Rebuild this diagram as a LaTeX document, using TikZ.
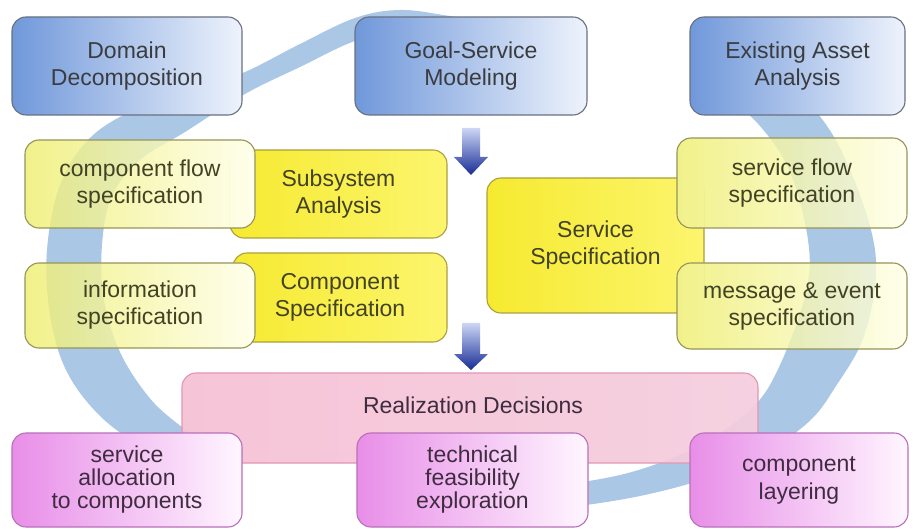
\documentclass[tikz,border=0pt]{standalone}
\usepackage{fontspec}
\setmainfont{Liberation Sans}
\definecolor{ringblue}{RGB}{162,193,228}
\definecolor{blueL}{RGB}{112,152,218}
\definecolor{blueR}{RGB}{238,243,252}
\definecolor{blueD}{RGB}{105,112,128}
\definecolor{yelL}{RGB}{238,238,110}
\definecolor{yelR}{RGB}{255,255,232}
\definecolor{yelD}{RGB}{150,148,90}
\definecolor{ymainL}{RGB}{246,234,48}
\definecolor{ymainR}{RGB}{252,245,110}
\definecolor{ymainD}{RGB}{172,160,60}
\definecolor{pinkL}{RGB}{246,192,212}
\definecolor{pinkM}{RGB}{252,226,236}
\definecolor{pinkR}{RGB}{245,205,222}
\definecolor{pinkD}{RGB}{226,150,180}
\definecolor{magL}{RGB}{232,142,232}
\definecolor{magR}{RGB}{255,246,255}
\definecolor{magD}{RGB}{184,112,184}
\definecolor{txtD}{RGB}{58,60,64}
\definecolor{txtY}{RGB}{66,66,36}
\definecolor{txtP}{RGB}{64,44,64}
\definecolor{arrL}{RGB}{205,215,245}
\definecolor{arrD}{RGB}{24,44,150}
\begin{document}
\begin{tikzpicture}[x=1pt,y=-1pt,
  box/.style={rectangle, rounded corners=14pt, line width=1.1pt, align=center,
    font=\fontsize{23}{27}\selectfont, inner sep=0pt},
  bluebox/.style={box, draw=blueD, left color=blueL, right color=blueR, text=txtD},
  sidebox/.style={box, draw=yelD, left color=yelL, right color=yelR, text=txtY, fill opacity=0.8, text opacity=1},
  mainbox/.style={box, draw=ymainD, left color=ymainL, right color=ymainR, text=txtY},
  pinkbox/.style={box, draw=pinkD, left color=pinkL, middle color=pinkM, right color=pinkR, fill opacity=0.92},
  magbox/.style={box, draw=magD, left color=magL, right color=magR, text=txtP,
    font=\fontsize{23}{23}\selectfont},
  lbl/.style={inner sep=0pt, font=\fontsize{23}{27}\selectfont},
  flowarrow/.style={top color=arrL, bottom color=arrD},
  swirl/.style={fill=ringblue, fill opacity=0.9}
]
\useasboundingbox (0,0) rectangle (913,529);
\fill[white] (0,0) rectangle (913,529);

% background swirl (left arc)
\path[swirl] plot[smooth, tension=0.6] coordinates {
  (540,30) (450,16) (400,10) (355,18) (300,44) (245,72) (190,92) (130,112) (88,140)
  (60,185) (47,250) (50,315) (66,370) (98,414) (140,446) (185,470)}
  -- plot[smooth, tension=0.6] coordinates {
  (215,448) (178,424) (148,396) (120,352) (104,300) (102,245) (112,196) (140,160)
  (185,132) (245,94) (300,67) (355,41) (400,32) (450,32) (540,44)} -- cycle;
% background swirl (right arc)
\path[swirl] plot[smooth, tension=0.6] coordinates {
  (745,60) (800,95) (842,152) (875,250) (866,330) (836,386) (804,426) (740,466)
  (640,496) (520,512) (430,512)}
  -- plot[smooth, tension=0.6] coordinates {
  (430,486) (520,488) (620,475) (698,446) (752,408) (780,365) (806,292) (808,240)
  (790,172) (760,126) (720,90)} -- cycle;

% top row
\node[bluebox, minimum width=230pt, minimum height=98pt] (dd) at (127,66) {Domain\\Decomposition};
\node[bluebox, minimum width=232pt, minimum height=98pt] (gsm) at (471,66) {Goal-Service\\Modeling};
\node[bluebox, minimum width=215pt, minimum height=98pt] (eaa) at (797.5,66) {Existing Asset\\Analysis};

% main yellow boxes
\node[mainbox, minimum width=217pt, minimum height=88pt] (ssa) at (338.5,194) {Subsystem\\Analysis};
\node[mainbox, minimum width=214pt, minimum height=89pt] (cs) at (340,297.5) {Component\\Specification};
\node[mainbox, minimum width=217pt, minimum height=135pt] (ss) at (595.5,245.5) {Service\\Specification};

% opaque underlay where side boxes overlap main boxes
\begin{scope}
  \clip (ssa.north west) rectangle (cs.south east);
  \fill[white, rounded corners=14pt] (25,140) rectangle (255,228);
  \fill[white, rounded corners=14pt] (25,263) rectangle (255,348);
\end{scope}
\begin{scope}
  \clip (ss.north west) rectangle (ss.south east);
  \fill[white, rounded corners=14pt] (677,138) rectangle (907,228);
  \fill[white, rounded corners=14pt] (677,263) rectangle (907,349);
\end{scope}

% side yellow boxes
\node[sidebox, minimum width=230pt, minimum height=88pt] (cfs) at (140,184) {component flow\\specification};
\node[sidebox, minimum width=230pt, minimum height=85pt] (inf) at (140,305.5) {information\\specification};
\node[sidebox, minimum width=230pt, minimum height=90pt] (sfs) at (792,183) {service flow\\specification};
\node[sidebox, minimum width=230pt, minimum height=86pt] (mes) at (792,306) {message \& event\\specification};

% realization
\node[pinkbox, minimum width=576pt, minimum height=90pt] (rd) at (470,418) {};
\node[lbl, text=txtP] (rdt) at (473,405) {Realization Decisions};

% bottom row
\node[magbox, minimum width=230pt, minimum height=94pt] (sac) at (127,480) {service\\allocation\\to components};
\node[magbox, minimum width=231pt, minimum height=94pt] (tfe) at (472.5,480) {technical\\feasibility\\exploration};
\node[magbox, minimum width=218pt, minimum height=94pt, font=\fontsize{23}{28}\selectfont] (cl) at (799,480) {component\\layering};

% flow arrows
\shade[flowarrow] (462,128) -- (480,128) -- (480,157) -- (488,157) -- (471,175) -- (454,157) -- (462,157) -- cycle;
\shade[flowarrow] (462,323) -- (480,323) -- (480,354) -- (488,354) -- (471,370) -- (454,354) -- (462,354) -- cycle;
\end{tikzpicture}
\end{document}
